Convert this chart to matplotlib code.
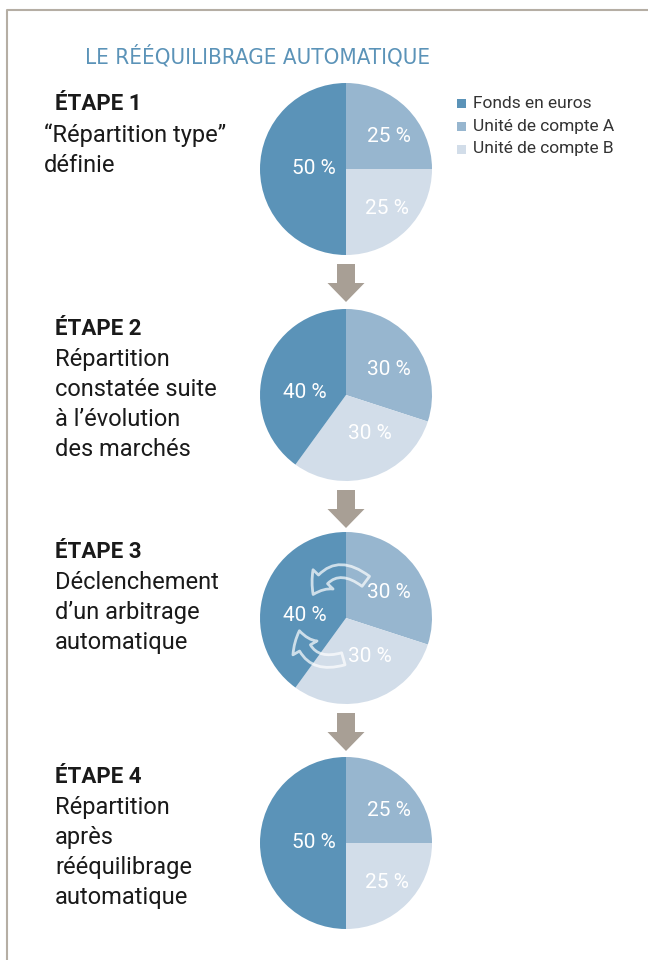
import numpy as np
import matplotlib.pyplot as plt
from matplotlib.patches import FancyArrow, FancyArrowPatch, Rectangle

plt.rcParams['font.family'] = ['Roboto', 'DejaVu Sans']

# data
categories = ['Fonds en euros', 'Unité de compte A', 'Unité de compte B']
colors = ['#5b93b8', '#97b6cf', '#d2dde9']
# shares per step, order: A, B, euros (clockwise from the top)
step_values = [
    [25, 25, 50],
    [30, 30, 40],
    [30, 30, 40],
    [25, 25, 50],
]
step_titles = ['ÉTAPE 1', 'ÉTAPE 2', 'ÉTAPE 3', 'ÉTAPE 4']
step_texts = [
    '“Répartition type”\ndéfinie',
    'Répartition\nconstatée suite\nà l’évolution\ndes marchés',
    'Déclenchement\nd’un arbitrage\nautomatique',
    'Répartition\naprès\nrééquilibrage\nautomatique',
]

W, H = 648, 960
fig = plt.figure(figsize=(W / 100, H / 100), dpi=100)
ax = fig.add_axes([0, 0, 1, 1])

def Y(y):
    return H - y

pie_x = 346
pie_y = [169, 395, 618, 843]
radius = 86
text_x = 55
title_y = [104, 329, 552, 777]

# label placement: (radius fraction, angle shift) per wedge
lab_5025 = [(0.63, -8), (0.66, 1.5), (0.37, 0)]
lab_4030 = [(0.58, -5), (0.53, 14), (0.48, 14)]

for i, vals in enumerate(step_values):
    cy = Y(pie_y[i])
    wedges, _ = ax.pie(vals, colors=[colors[1], colors[2], colors[0]],
                       startangle=90, counterclock=False, center=(pie_x, cy),
                       radius=radius, frame=True,
                       wedgeprops=dict(linewidth=0))
    lab = lab_5025 if vals[2] == 50 else lab_4030
    for v, w, (r, sh) in zip(vals, wedges, lab):
        mid = np.deg2rad((w.theta1 + w.theta2) / 2 + sh)
        ax.text(pie_x + r * radius * np.cos(mid), cy + r * radius * np.sin(mid),
                f'{v} %', color='white', fontsize=15, ha='center', va='center')

    ax.text(text_x, Y(title_y[i]), step_titles[i], fontsize=16, fontweight='bold',
            color='#1a1a1a', ha='left', va='center')
    ax.text(text_x if i else 44, Y(title_y[i] + 19), step_texts[i], fontsize=17,
            color='#1a1a1a', ha='left', va='top', linespacing=1.38)

    # grey down arrow between steps
    if i < 3:
        top = Y(pie_y[i] + 95)
        ax.add_patch(FancyArrow(pie_x, top, 0, -38, width=18, head_width=37,
                                head_length=19, length_includes_head=True,
                                color='#a89f95', lw=0))

# rebalancing arrows in step 3
for (x0, y0), (x1, y1), rad in [((368, 583), (312, 597), 0.65),
                                ((346, 658), (299, 628), -0.6)]:
    ax.add_patch(FancyArrowPatch((x0, Y(y0)), (x1, Y(y1)),
                                 connectionstyle=f'arc3,rad={rad}',
                                 arrowstyle='simple,head_width=20,head_length=13,tail_width=9',
                                 fc='none', ec='white', alpha=0.7, lw=2,
                                 mutation_scale=1))

# legend
for j, (name, c) in enumerate(zip(categories, colors)):
    ly = Y(103 + 23 * j)
    ax.add_patch(Rectangle((457, ly - 4.5), 9, 9, color=c, lw=0))
    ax.text(473, ly, name, fontsize=12.5, color='#333333', ha='left', va='center')

# title
ax.text(258, Y(56), 'LE RÉÉQUILIBRAGE AUTOMATIQUE', fontsize=16, color='#5b93b8',
        ha='center', va='center', family='DejaVu Sans', fontstretch='condensed')

# frame lines
ax.plot([7, 7, W], [0, Y(10), Y(10)], color='#b5aea4', lw=1.5)

ax.set_xlim(0, W)
ax.set_ylim(0, H)
ax.set_aspect('auto')
ax.axis('off')
fig.savefig('out.png', dpi=100)
